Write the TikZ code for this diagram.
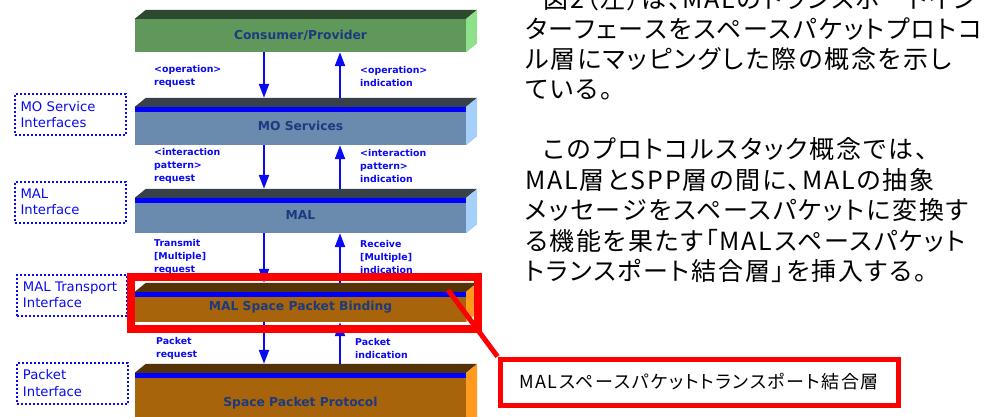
\documentclass[tikz,border=0pt]{standalone}
\usepackage{fontspec}
\usepackage{xcolor}
\usetikzlibrary{positioning,arrows.meta}

\newfontfamily\verd{DejaVu Sans}
\newfontfamily\jpfont[RawFeature=+palt, LetterSpace=9]{Noto Sans CJK JP}
\newfontfamily\jpbody[RawFeature=+palt, LetterSpace=7.5]{Noto Sans CJK JP}

\definecolor{cpfront}{HTML}{5F985A}
\definecolor{cptop}{HTML}{2E4A2E}
\definecolor{cpside}{HTML}{8EE08A}
\definecolor{mofront}{HTML}{6A8BAE}
\definecolor{motop}{HTML}{36414C}
\definecolor{moside}{HTML}{A6D0FA}
\definecolor{spfront}{HTML}{A8640A}
\definecolor{sptop}{HTML}{553308}
\definecolor{spside}{HTML}{FF9A1E}
\definecolor{titlenavy}{HTML}{1B3A80}
\definecolor{labelblue}{HTML}{0A0AF0}

\begin{document}
\begin{tikzpicture}[x=1pt, y=1pt,
    layer/.style={rectangle, inner sep=0pt, minimum width=331pt, text=titlenavy,
                  font=\verd\bfseries\fontsize{12.3}{14}\selectfont},
    lbl/.style={anchor=west, align=left, inner sep=0pt, text=labelblue,
                font=\verd\bfseries\fontsize{9.4}{13}\selectfont},
    iface/.style={draw=labelblue, line width=2pt, dash pattern=on 2pt off 2pt,
                  align=left, inner xsep=5.5pt, inner ysep=0pt, text width=100pt,
                  minimum height=41pt, text=labelblue,
                  font=\verd\fontsize{13.2}{16.5}\selectfont},
    flow/.style={-{Triangle[width=10pt,length=14pt]}, line width=2.2pt, draw=labelblue},
    jptext/.style={anchor=north west, align=left, inner sep=0pt}
]
    \clip (0,0) rectangle (990,416);

    % protocol stack
    \node[layer, fill=cpfront, minimum height=33pt] (consumer) at (300.5,380.5) {Consumer/Provider};
    \node[layer, fill=mofront, minimum height=38pt] (moserv) at (300.5,290) {MO Services};
    \node[layer, fill=mofront, minimum height=35pt] (mal) at (300.5,200.5) {MAL};
    \node[layer, fill=spfront, minimum height=30pt] (spb) at (300.5,109) {MAL Space Packet Binding};
    \node[layer, fill=spfront, minimum height=60pt] (spp) at (300.5,13) {Space Packet Protocol};

    \foreach \n/\tc/\sc in {consumer/cptop/cpside, moserv/motop/moside, mal/motop/moside,
                            spb/sptop/spside, spp/sptop/spside} {
        \fill[\tc] (\n.north west) -- ++(11,9) -- ([shift={(11,9)}]\n.north east)
            -- (\n.north east) -- cycle;
        \fill[\sc] (\n.north east) -- ++(11,9) -- ([shift={(11,9)}]\n.south east)
            -- (\n.south east) -- cycle;
    }
    \foreach \n in {moserv, mal, spb, spp}
        \fill[blue] (\n.north west) rectangle ([yshift=-5pt]\n.north east);

    % request / indication flows
    \foreach \a/\b in {consumer/moserv, moserv/mal, mal/spb, spb/spp} {
        \draw[flow] ([xshift=-36.5pt]\a.south) -- ([xshift=-36.5pt, yshift=9pt]\b.north);
        \draw[flow] ([xshift=39.5pt, yshift=9pt]\b.north) -- ([xshift=39.5pt]\a.south);
    }

    \node[lbl] (oprq) at (154,339.5) {<operation>\\request};
    \node[lbl] (opind) at (360,339.5) {<operation>\\indication};
    \node[lbl] (iprq) at (154,250) {<interaction\\pattern>\\request};
    \node[lbl] (ipind) at (360,250) {<interaction\\pattern>\\indication};
    \node[lbl] (txrq) at (154,159.5) {Transmit\\{[Multiple]}\\request};
    \node[lbl] (rxind) at (360,159.5) {Receive\\{[Multiple]}\\indication};
    \node[lbl] (pkrq) at (156,67.5) {Packet\\request};
    \node[lbl] (pkind) at (355,67.5) {Packet\\indication};

    % interfaces
    \node[iface] (moif) at (70.5,301.5) {MO Service\\Interfaces};
    \node[iface] (malif) at (70.5,214) {MAL\\Interface};
    \node[iface, inner xsep=6pt, text width=98pt] (trif) at (72,121) {MAL Transport\\Interface};
    \node[iface, inner xsep=6pt, text width=99pt] (pkif) at (72.5,33) {Packet\\Interface};

    % highlight and callout
    \node[draw=red, line width=8pt, inner sep=0pt, minimum width=347pt,
          minimum height=52pt] (hilite) at (304.5,113) {};
    \coordinate (ptr) at (448,126);
    \node[draw=red, line width=5pt, inner sep=0pt, minimum width=398pt, minimum height=46pt,
          fill=white, font=\jpfont\fontsize{18}{20}\selectfont] (callout) at (699,34)
        {MALスペースパケットトランスポート結合層};
    \draw[red, line width=5pt] (ptr) -- (callout.north west);

    % body text
    \node[jptext, font=\jpbody\fontsize{25}{30}\selectfont] (intro) at (525,429)
        {\hspace{18pt}図2（左）は、MALのトランスポートイン\\
         ターフェースをスペースパケットプロトコ\\
         ル層にマッピングした際の概念を示し\\
         ている。};
    \node[jptext, font=\jpbody\fontsize{25}{30.5}\selectfont] (concept) at (525,278.5)
        {\hspace{18pt}このプロトコルスタック概念では、\\
         MAL層とSPP層の間に、MALの抽象\\
         メッセージをスペースパケットに変換す\\
         る機能を果たす「MALスペースパケット\\
         トランスポート結合層」を挿入する。};
\end{tikzpicture}
\end{document}
